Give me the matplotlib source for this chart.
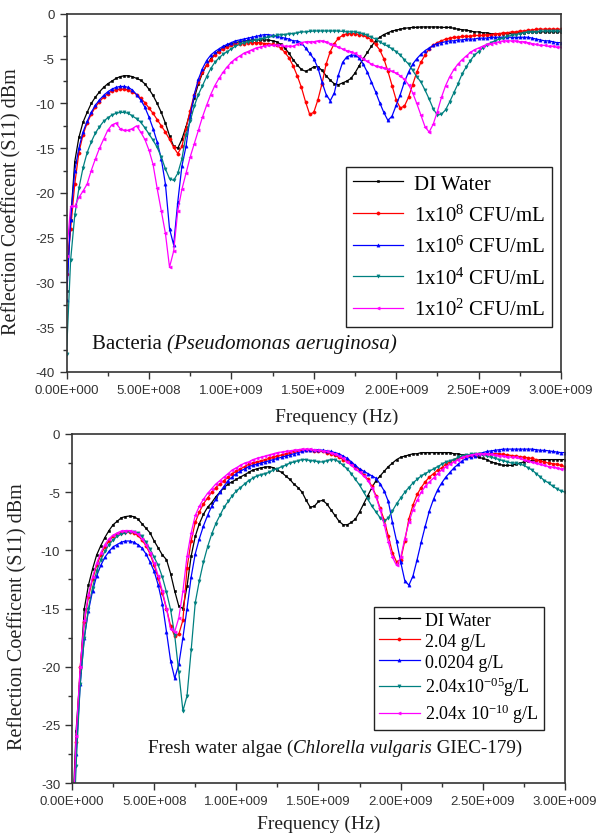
import matplotlib
matplotlib.use("Agg")
import matplotlib.pyplot as plt
import numpy as np
from matplotlib.patches import Rectangle
from matplotlib.ticker import FuncFormatter, MultipleLocator

plt.rcParams["axes.unicode_minus"] = False
plt.rcParams["mathtext.fontset"] = "custom"
plt.rcParams["mathtext.rm"] = "Liberation Serif"
plt.rcParams["mathtext.it"] = "Liberation Serif:italic"

# frequency sweep, 25 MHz steps from 0 to 3 GHz
freq = np.arange(0, 3001, 25) * 1e6

# ---- top panel: bacteria (Pseudomonas aeruginosa), S11 in dBm ----
bac_di_water = [
    -31, -23, -16.5, -13.8, -12.1, -11.0, -10.0, -9.3, -8.7, -8.2,
    -7.8, -7.5, -7.2, -7.0, -6.9, -6.9, -7.0, -7.2, -7.4, -7.8,
    -8.4, -9.1, -10.0, -11.0, -12.2, -13.6, -14.8, -15.0, -14.0, -12.6,
    -11.0, -9.4, -7.8, -6.6, -5.7, -5.0, -4.5, -4.1, -3.8, -3.5,
    -3.3, -3.2, -3.1, -3.0, -3.0, -2.9, -2.9, -2.9, -2.9, -2.9,
    -3.0, -3.1, -3.4, -3.8, -4.4, -5.1, -5.7, -6.2, -6.4, -6.2,
    -5.9, -5.9, -6.3, -6.9, -7.4, -7.8, -7.9, -7.7, -7.5, -7.2,
    -6.6, -5.8, -5.0, -4.3, -3.6, -3.0, -2.6, -2.3, -2.1, -1.9,
    -1.8, -1.7, -1.6, -1.55, -1.5, -1.5, -1.45, -1.45, -1.45, -1.45,
    -1.45, -1.5, -1.5, -1.5, -1.6, -1.7, -1.75, -1.8, -1.9, -2.0,
    -2.0, -2.1, -2.1, -2.2, -2.2, -2.2, -2.2, -2.2, -2.2, -2.1,
    -2.1, -2.1, -2.0, -2.0, -2.0, -2.0, -2.0, -2.0, -2.0, -2.0,
    -2.0,
]
bac_1e8 = [
    -29, -24, -19, -15.5, -13.5, -12.2, -11.2, -10.4, -9.8, -9.3,
    -8.9, -8.6, -8.45, -8.4, -8.4, -8.5, -8.7, -9.0, -9.4, -9.9,
    -10.5, -11.1, -11.8, -12.5, -13.2, -14.0, -14.9, -15.6, -14.8, -12.8,
    -10.8, -9.0, -7.6, -6.5, -5.7, -5.1, -4.6, -4.2, -3.9, -3.7,
    -3.5, -3.4, -3.3, -3.3, -3.2, -3.2, -3.2, -3.2, -3.3, -3.3,
    -3.4, -3.5, -3.8, -4.3, -4.9, -5.8, -6.9, -8.2, -9.8, -11.2,
    -11.0, -9.6, -7.8, -5.6, -4.2, -3.3, -2.7, -2.4, -2.2, -2.2,
    -2.2, -2.3, -2.4, -2.6, -2.9, -3.4, -4.0, -5.0, -6.4, -8.0,
    -9.6, -10.5, -10.3, -9.3, -7.9, -6.5, -5.4, -4.6, -3.9, -3.5,
    -3.2, -3.0, -2.8, -2.7, -2.6, -2.6, -2.5, -2.5, -2.5, -2.4,
    -2.4, -2.4, -2.3, -2.3, -2.2, -2.2, -2.1, -2.1, -2.0, -2.0,
    -1.9, -1.9, -1.8, -1.8, -1.7, -1.7, -1.7, -1.7, -1.7, -1.7,
    -1.7,
]
bac_1e6 = [
    -32, -23, -17.5, -15.0, -13.2, -12.0, -11.0, -10.2, -9.6, -9.1,
    -8.7, -8.4, -8.2, -8.1, -8.1, -8.2, -8.5, -9.0, -9.6, -10.4,
    -11.5, -12.8, -14.3, -16.2, -19.0, -24.0, -25.8, -21.0, -17.0, -14.8,
    -11.5, -9.0, -7.3, -6.1, -5.2, -4.6, -4.2, -3.9, -3.6, -3.4,
    -3.2, -3.0, -2.9, -2.8, -2.7, -2.6, -2.5, -2.4, -2.3, -2.3,
    -2.4, -2.5, -2.6, -2.7, -2.8, -3.0, -3.0, -3.2, -3.8, -4.4,
    -5.0, -6.0, -7.6, -9.0, -9.7, -8.8, -6.8, -5.4, -4.8, -4.6,
    -4.6, -4.9, -5.6, -6.5, -7.6, -8.7, -9.9, -11.0, -11.9, -11.4,
    -10.2, -9.0, -7.6, -6.5, -5.6, -5.0, -4.5, -4.1, -3.8, -3.5,
    -3.3, -3.2, -3.1, -3.0, -3.0, -2.9, -2.9, -2.8, -2.8, -2.8,
    -2.7, -2.7, -2.7, -2.6, -2.6, -2.6, -2.6, -2.6, -2.6, -2.6,
    -2.6, -2.6, -2.6, -2.7, -2.8, -2.9, -3.0, -3.0, -3.1, -3.2,
    -3.2,
]
bac_1e4 = [
    -38, -27.5, -22.5, -19.5, -17.2, -15.5, -14.3, -13.3, -12.6, -12.0,
    -11.6, -11.3, -11.1, -11.0, -11.0, -11.1, -11.4, -11.7, -12.1, -12.7,
    -13.4, -14.1, -14.9, -16.0, -17.3, -18.4, -18.6, -17.8, -16.2, -13.5,
    -12.0, -10.3, -9.0, -8.0, -7.0, -6.1, -5.4, -4.9, -4.5, -4.2,
    -3.9, -3.6, -3.4, -3.2, -3.1, -3.0, -2.9, -2.8, -2.7, -2.6,
    -2.5, -2.4, -2.3, -2.3, -2.2, -2.2, -2.1, -2.0, -2.0, -1.95,
    -1.9, -1.9, -1.9, -1.9, -1.9, -1.9, -1.9, -1.95, -2.0, -2.0,
    -2.0, -2.1, -2.2, -2.4, -2.6, -2.8, -3.1, -3.4, -3.6, -3.9,
    -4.2, -4.6, -5.1, -5.6, -6.3, -7.0, -7.6, -8.5, -9.5, -10.6,
    -11.3, -11.2, -10.7, -9.8, -8.8, -7.8, -6.7, -5.9, -5.2, -4.6,
    -4.2, -3.8, -3.5, -3.2, -3.0, -2.8, -2.7, -2.5, -2.4, -2.3,
    -2.2, -2.1, -2.0, -2.0, -2.0, -1.9, -1.9, -1.9, -1.9, -1.9,
    -1.9,
]
bac_1e2 = [
    -27, -21.5, -21.5, -20.5, -19.8, -19.0, -17.5, -16.2, -15.0, -14.0,
    -13.0, -12.4, -12.2, -12.8, -13.0, -13.0, -12.8, -12.5, -13.2, -14.0,
    -15.2, -16.8, -19.5, -22.0, -24.5, -28.3, -26.5, -22.0, -19.6, -17.8,
    -16.0, -14.5, -13.0, -11.5, -10.2, -9.0, -8.0, -7.2, -6.5, -5.9,
    -5.4, -5.0, -4.7, -4.4, -4.2, -4.0, -3.8, -3.7, -3.6, -3.5,
    -3.5, -3.5, -3.5, -3.6, -3.6, -3.6, -3.4, -3.2, -3.1, -3.1,
    -3.1, -3.0, -3.0, -3.1, -3.3, -3.5, -3.7, -3.9, -4.1, -4.2,
    -4.4, -4.7, -5.0, -5.3, -5.6, -5.8, -5.9, -6.0, -6.2, -6.4,
    -6.6, -6.9, -7.3, -7.9, -8.8, -10.0, -11.3, -12.6, -13.2, -12.3,
    -10.9, -9.3, -8.0, -7.0, -6.2, -5.6, -5.1, -4.7, -4.3, -4.0,
    -3.8, -3.6, -3.4, -3.3, -3.2, -3.1, -3.0, -3.0, -3.0, -3.0,
    -3.1, -3.1, -3.2, -3.3, -3.4, -3.5, -3.5, -3.6, -3.6, -3.7,
    -3.7,
]

# ---- bottom panel: fresh water algae (Chlorella vulgaris), S11 in dBm ----
alg_di_water = [
    -34, -25.5, -20.5, -15.0, -13.0, -11.6, -10.4, -9.6, -8.9, -8.3,
    -7.8, -7.5, -7.2, -7.1, -7.05, -7.1, -7.3, -7.7, -8.1, -8.5,
    -9.2, -9.8, -10.4, -10.8, -12.0, -13.5, -14.8, -15.0, -13.1, -10.5,
    -8.8, -7.7, -6.9, -6.3, -5.9, -5.4, -5.0, -4.6, -4.3, -4.1,
    -3.9, -3.7, -3.5, -3.3, -3.1, -3.0, -2.9, -2.85, -2.8, -2.9,
    -3.1, -3.3, -3.6, -3.9, -4.3, -4.6, -5.0, -5.7, -6.3, -6.2,
    -5.8, -5.7, -6.0, -6.5, -7.0, -7.5, -7.8, -7.8, -7.6, -7.3,
    -6.7, -6.0, -5.3, -4.6, -4.0, -3.6, -3.2, -2.8, -2.5, -2.2,
    -2.0, -1.9, -1.8, -1.7, -1.7, -1.6, -1.6, -1.6, -1.6, -1.6,
    -1.6, -1.6, -1.6, -1.7, -1.7, -1.8, -1.8, -1.9, -1.9, -2.0,
    -2.1, -2.2, -2.4, -2.5, -2.6, -2.7, -2.7, -2.7, -2.6, -2.5,
    -2.4, -2.3, -2.3, -2.3, -2.2, -2.2, -2.2, -2.2, -2.2, -2.2,
    -2.2,
]
alg_2_04 = [
    -36, -26.5, -20.0, -16.2, -14.0, -12.5, -11.3, -10.4, -9.7, -9.2,
    -8.8, -8.6, -8.5, -8.4, -8.4, -8.5, -8.7, -9.1, -9.6, -10.3,
    -11.3, -12.4, -13.7, -15.0, -16.5, -17.4, -17.2, -16.0, -11.5, -9.2,
    -7.6, -6.7, -6.0, -5.5, -5.0, -4.6, -4.3, -4.0, -3.7, -3.4,
    -3.2, -3.0, -2.8, -2.6, -2.5, -2.4, -2.3, -2.2, -2.1, -2.0,
    -1.9, -1.8, -1.7, -1.6, -1.5, -1.45, -1.4, -1.4, -1.4, -1.45,
    -1.5, -1.5, -1.6, -1.7, -1.8, -2.0, -2.2, -2.3, -2.5, -2.8,
    -3.1, -3.5, -3.9, -4.5, -5.3, -6.4, -7.4, -8.8, -10.2, -11.0,
    -10.8, -9.2, -7.3, -6.1, -5.2, -4.6, -4.1, -3.7, -3.4, -3.1,
    -2.9, -2.6, -2.4, -2.2, -2.1, -2.0, -1.9, -1.85, -1.8, -1.75,
    -1.7, -1.7, -1.7, -1.7, -1.7, -1.75, -1.8, -1.85, -1.9, -1.95,
    -2.0, -2.05, -2.1, -2.2, -2.3, -2.4, -2.5, -2.55, -2.6, -2.7,
    -2.8,
]
alg_0_0204 = [
    -37, -27.5, -21.5, -17.5, -15.2, -13.5, -12.2, -11.3, -10.6, -10.1,
    -9.7, -9.5, -9.3, -9.2, -9.2, -9.3, -9.5, -9.8, -10.3, -11.0,
    -11.8, -13.0, -14.6, -17.0, -19.5, -21.0, -19.8, -17.5, -15.0, -12.3,
    -10.3, -9.0, -7.9, -7.0, -6.2, -5.6, -5.0, -4.5, -4.0, -3.7,
    -3.4, -3.2, -3.0, -2.8, -2.7, -2.6, -2.5, -2.4, -2.3, -2.2,
    -2.1, -2.0, -1.9, -1.8, -1.7, -1.6, -1.5, -1.4, -1.35, -1.35,
    -1.35, -1.4, -1.45, -1.5, -1.6, -1.7, -1.9, -2.1, -2.4, -2.7,
    -3.0, -3.2, -3.4, -3.6, -3.8, -4.3, -4.9, -5.8, -7.6, -9.2,
    -11.0, -12.6, -13.0, -12.2, -10.8, -9.3, -7.9, -6.6, -5.6, -4.8,
    -4.2, -3.7, -3.3, -2.9, -2.6, -2.3, -2.1, -2.0, -1.85, -1.7,
    -1.6, -1.5, -1.45, -1.4, -1.35, -1.3, -1.3, -1.3, -1.3, -1.3,
    -1.3, -1.3, -1.3, -1.35, -1.4, -1.4, -1.45, -1.5, -1.55, -1.6,
    -1.6,
]
alg_2_04e_5 = [
    -38, -28.5, -21.5, -17.5, -15.0, -13.2, -11.8, -10.8, -10.1, -9.5,
    -9.1, -8.8, -8.6, -8.5, -8.4, -8.4, -8.5, -8.8, -9.3, -9.9,
    -10.6, -11.3, -12.3, -13.6, -15.1, -17.3, -20.5, -23.8, -22.5, -18.6,
    -14.5, -12.6, -11.0, -9.7, -8.6, -7.7, -7.0, -6.3, -5.8, -5.3,
    -4.9, -4.6, -4.3, -4.0, -3.8, -3.6, -3.5, -3.4, -3.3, -3.1,
    -3.0, -2.8, -2.7, -2.5, -2.4, -2.3, -2.2, -2.2, -2.3, -2.3,
    -2.4, -2.4, -2.3, -2.2, -2.2, -2.4, -2.7, -3.0, -3.4, -3.9,
    -4.4, -5.0, -5.6, -6.2, -6.7, -7.2, -7.5, -7.2, -6.6, -6.0,
    -5.5, -5.0, -4.6, -4.2, -3.9, -3.6, -3.4, -3.2, -3.0, -2.8,
    -2.6, -2.4, -2.3, -2.2, -2.0, -1.9, -1.8, -1.75, -1.7, -1.7,
    -1.8, -1.9, -2.0, -2.1, -2.2, -2.3, -2.4, -2.5, -2.5, -2.6,
    -2.7, -2.9, -3.1, -3.4, -3.7, -4.0, -4.2, -4.5, -4.7, -4.9,
    -5.0,
]
alg_2_04e_10 = [
    -36, -26.0, -20.0, -16.0, -13.8, -12.3, -11.1, -10.2, -9.5, -9.0,
    -8.7, -8.5, -8.35, -8.3, -8.3, -8.4, -8.6, -9.0, -9.5, -10.2,
    -11.1, -12.2, -13.5, -15.0, -16.8, -17.0, -15.8, -13.5, -10.5, -8.5,
    -7.0, -6.2, -5.6, -5.1, -4.7, -4.3, -4.0, -3.7, -3.4, -3.1,
    -2.9, -2.7, -2.5, -2.4, -2.2, -2.1, -2.0, -1.9, -1.8, -1.7,
    -1.6, -1.55, -1.5, -1.45, -1.4, -1.35, -1.3, -1.3, -1.3, -1.35,
    -1.4, -1.45, -1.5, -1.6, -1.7, -1.9, -2.1, -2.4, -2.7, -3.0,
    -3.3, -3.6, -4.0, -4.6, -5.4, -6.5, -7.8, -9.3, -10.6, -11.3,
    -10.6, -9.0, -7.6, -6.5, -5.7, -5.0, -4.5, -4.1, -3.8, -3.4,
    -3.1, -2.8, -2.6, -2.4, -2.2, -2.0, -1.9, -1.8, -1.75, -1.7,
    -1.7, -1.7, -1.75, -1.8, -1.85, -1.9, -1.95, -2.0, -2.0, -2.1,
    -2.2, -2.3, -2.4, -2.5, -2.6, -2.7, -2.8, -2.85, -2.9, -3.0,
    -3.0,
]

bac_labels = ["DI Water", r"1x10$^{8}$ CFU/mL", r"1x10$^{6}$ CFU/mL",
              r"1x10$^{4}$ CFU/mL", r"1x10$^{2}$ CFU/mL"]
alg_labels = ["DI Water", "2.04 g/L", "0.0204 g/L",
              r"2.04x10$^{-05}$g/L", r"2.04x 10$^{-10}$ g/L"]

colors = ["#000000", "#ff0000", "#0000ff", "#008080", "#ff00ff"]
markers = ["s", "o", "^", "v", "<"]
msizes = [1.7, 2.3, 2.3, 2.3, 2.3]

SERIF = "Liberation Serif"
SANS = "Liberation Sans"


def sci_fmt(v, pos):
    if v == 0:
        return "0.00E+000"
    e = int(np.floor(np.log10(abs(v))))
    m = v / 10 ** e
    return f"{m:.2f}E+{e:03d}"


def style_axes(ax, ymin, ylabel_x):
    ax.set_xlim(0, 3e9)
    ax.set_ylim(ymin, 0)
    ax.xaxis.set_major_locator(MultipleLocator(5e8))
    ax.xaxis.set_minor_locator(MultipleLocator(2.5e8))
    ax.yaxis.set_major_locator(MultipleLocator(5))
    ax.yaxis.set_minor_locator(MultipleLocator(2.5))
    ax.xaxis.set_major_formatter(FuncFormatter(sci_fmt))
    ax.yaxis.set_major_formatter(FuncFormatter(lambda v, p: f"{v:.0f}"))
    ax.tick_params(which="both", direction="out", top=False, right=False,
                   colors="#333333", labelsize=9.5, width=1.0)
    ax.tick_params(which="major", length=5)
    ax.tick_params(which="minor", length=3)
    for lab in ax.get_xticklabels() + ax.get_yticklabels():
        lab.set_fontfamily(SANS)
    for sp in ax.spines.values():
        sp.set_color("#333333")
        sp.set_linewidth(1.2)
    ax.set_ylabel("Reflection Coefficent (S11) dBm", family=SERIF,
                  fontsize=14.5, color="#222222")
    ax.yaxis.set_label_coords(ylabel_x, 0.48)


def draw_series(ax, series, labels):
    for vals, lab, c, m, s in zip(series, labels, colors, markers, msizes):
        ax.plot(freq, vals, color=c, lw=0.9, marker=m, ms=s, mew=0.4,
                label=lab)


def mixed_label(ax, x, y, plain, italic, tail, size):
    t1 = ax.text(x, y, plain, transform=ax.transAxes, family=SERIF,
                 fontsize=size, va="baseline", color="#111111")
    t2 = ax.annotate(italic, xy=(1, 0), xycoords=t1, va="bottom",
                     family=SERIF, style="italic", fontsize=size,
                     color="#111111")
    if tail:
        ax.annotate(tail, xy=(1, 0), xycoords=t2, va="bottom", family=SERIF,
                    fontsize=size, color="#111111")


fig = plt.figure(figsize=(5.97, 8.37), dpi=100)

# top panel
ax1 = fig.add_axes([0.1114, 0.5544, 0.8283, 0.4277])
draw_series(ax1, [bac_di_water, bac_1e8, bac_1e6, bac_1e4, bac_1e2], bac_labels)
style_axes(ax1, -40, -0.092)
mixed_label(ax1, 0.052, 0.067, "Bacteria ", "(Pseudomonas aeruginosa)", "", 15)
leg1 = ax1.legend(loc="upper left", bbox_to_anchor=(0.565, 0.573),
                  borderaxespad=0, fancybox=False, framealpha=1,
                  edgecolor="#222222", numpoints=1, handlelength=2.4,
                  labelspacing=0.5, borderpad=0.35, handletextpad=0.5,
                  prop={"family": SERIF, "size": 15})
leg1.get_frame().set_linewidth(1.0)

# top panel x label (partly cut off in the original composite)
fig.text(337 / 597, 1 - 417 / 837, "Frequency (Hz)", family=SERIF,
         fontsize=14, ha="center", va="center", color="#222222")
fig.patches.append(Rectangle((0, 1 - 430 / 837), 1, 4 / 837,
                             transform=fig.transFigure, color="white",
                             zorder=10))

# bottom panel
ax2 = fig.add_axes([0.1206, 0.0633, 0.8258, 0.4170])
draw_series(ax2, [alg_di_water, alg_2_04, alg_0_0204, alg_2_04e_5, alg_2_04e_10],
            alg_labels)
style_axes(ax2, -30, -0.09)
ax2.set_xlabel("Frequency (Hz)", family=SERIF, fontsize=14, color="#222222",
               labelpad=6)
mixed_label(ax2, 0.154, 0.09, "Fresh water algae (", "Chlorella vulgaris",
            " GIEC-179)", 13.7)
leg2 = ax2.legend(loc="upper left", bbox_to_anchor=(0.6126, 0.504),
                  borderaxespad=0, fancybox=False, framealpha=1,
                  edgecolor="#222222", numpoints=1, handlelength=2.3,
                  labelspacing=0.22, borderpad=0.25, handletextpad=0.3,
                  prop={"family": SERIF, "size": 13})
leg2.get_frame().set_linewidth(1.0)

fig.savefig("out.png", dpi=100)
